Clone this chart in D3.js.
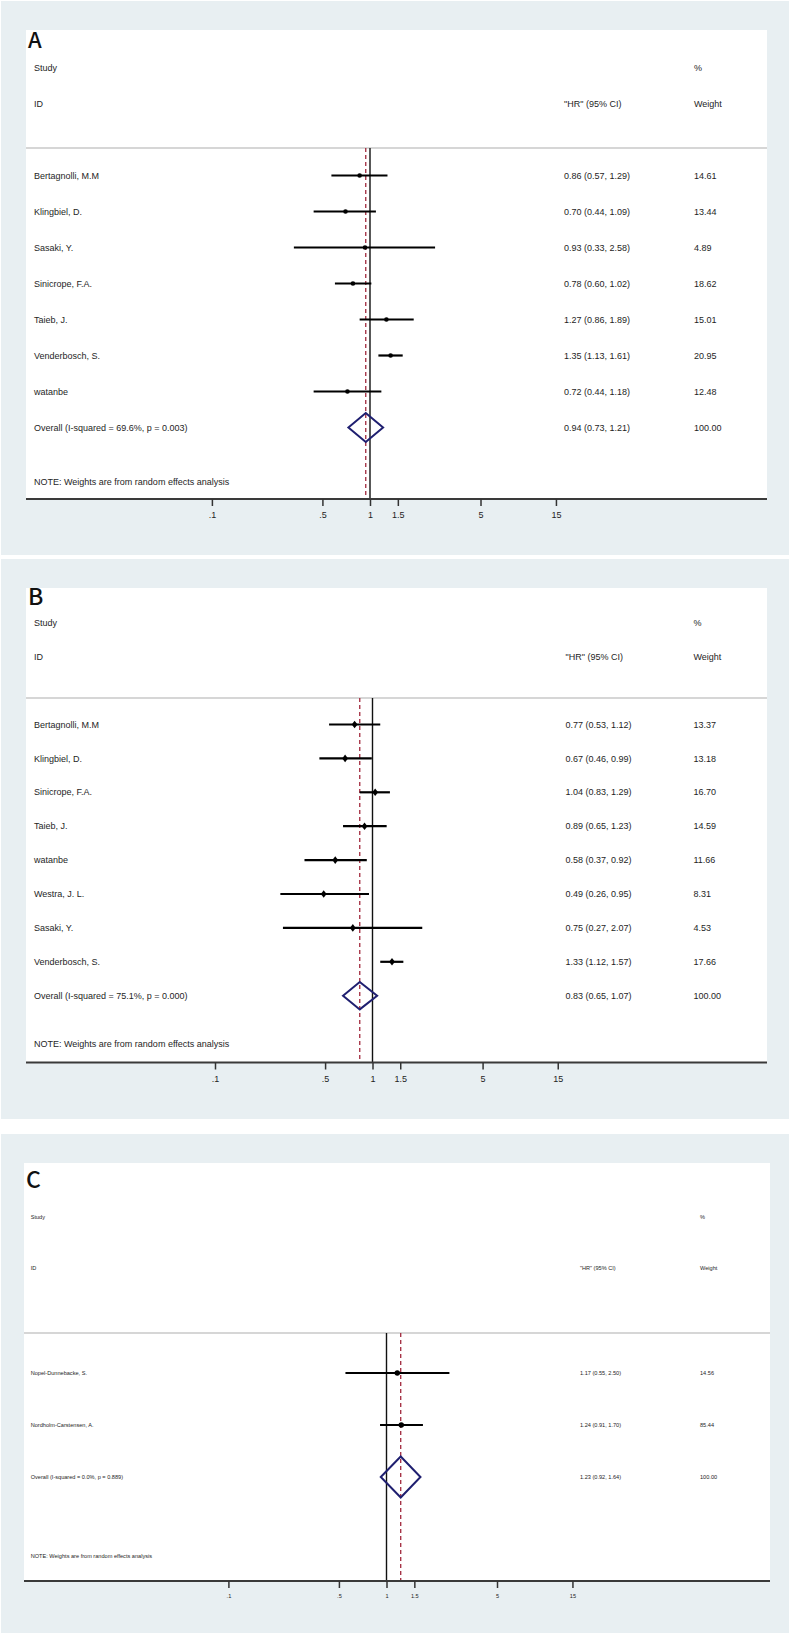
<!DOCTYPE html>
<html><head><meta charset="utf-8">
<script src="https://cdn.jsdelivr.net/npm/d3@7"></script>
<style>body{margin:0;background:#fff}svg{display:block}</style>
</head><body><svg id="c" width="789" height="1633"></svg>
<script>
// ---------- shared axis ticks ----------
const tickValues = [0.1, 0.5, 1, 1.5, 5, 15];
const tickLabels = [".1", ".5", "1", "1.5", "5", "15"];

// ---------- Panel A ----------
const studiesA = ["Bertagnolli, M.M", "Klingbiel, D.", "Sasaki, Y.", "Sinicrope, F.A.", "Taieb, J.", "Venderbosch, S.", "watanbe"];
const hrA = [0.86, 0.70, 0.93, 0.78, 1.27, 1.35, 0.72];
const loA = [0.57, 0.44, 0.33, 0.60, 0.86, 1.13, 0.44];
const hiA = [1.29, 1.09, 2.58, 1.02, 1.89, 1.61, 1.18];
const weightsA = ["14.61", "13.44", "4.89", "18.62", "15.01", "20.95", "12.48"];
const overallA = [0.94, 0.73, 1.21];
const overallLabelA = "Overall  (I-squared = 69.6%, p = 0.003)";

// ---------- Panel B ----------
const studiesB = ["Bertagnolli, M.M", "Klingbiel, D.", "Sinicrope, F.A.", "Taieb, J.", "watanbe", "Westra, J. L.", "Sasaki, Y.", "Venderbosch, S."];
const hrB = [0.77, 0.67, 1.04, 0.89, 0.58, 0.49, 0.75, 1.33];
const loB = [0.53, 0.46, 0.83, 0.65, 0.37, 0.26, 0.27, 1.12];
const hiB = [1.12, 0.99, 1.29, 1.23, 0.92, 0.95, 2.07, 1.57];
const weightsB = ["13.37", "13.18", "16.70", "14.59", "11.66", "8.31", "4.53", "17.66"];
const overallB = [0.83, 0.65, 1.07];
const overallLabelB = "Overall  (I-squared = 75.1%, p = 0.000)";

// ---------- Panel C ----------
const studiesC = ["Nopel-Dunnebacke, S.", "Nordholm-Carstensen, A."];
const hrC = [1.17, 1.24];
const loC = [0.55, 0.91];
const hiC = [2.50, 1.70];
const weightsC = ["14.56", "85.44"];
const overallC = [1.23, 0.92, 1.64];
const overallLabelC = "Overall  (I-squared = 0.0%, p = 0.889)";

const noteText = "NOTE: Weights are from random effects analysis";
const f2 = d3.format(".2f");

const svg = d3.select("#c");
const BG = "#e8eff2";
const FONT = "'Liberation Sans', Arial, sans-serif";

function drawPanel(L, D) {
  const g = svg.append("g");
  g.append("rect").attr("x", 1).attr("y", L.bgTop).attr("width", 788).attr("height", L.bgBottom - L.bgTop).attr("fill", BG);
  g.append("rect").attr("x", L.left).attr("y", L.top).attr("width", L.right - L.left).attr("height", L.axisY - L.top).attr("fill", "#fff");

  const t0 = tickValues[0], t1 = tickValues[tickValues.length - 1];
  const x = d3.scaleLog().domain([t0, t1])
    .range([L.x1 + L.perDec * Math.log10(t0), L.x1 + L.perDec * Math.log10(t1)]);

  // panel letter
  g.append("text").attr("x", L.left + 2).attr("y", L.labelY).text(D.letter)
    .attr("font-family", "'Noto Sans CJK SC', 'Noto Sans', sans-serif").attr("font-weight", 500)
    .attr("font-size", L.letterSize).attr("fill", "#111");

  const txt = (xx, yy, s, size) => g.append("text").attr("x", xx).attr("y", yy).attr("dy", "0.35em")
    .attr("font-family", FONT).attr("font-size", size).attr("fill", "#1e1e1e").text(s);

  txt(L.textX, L.studyY, "Study", L.font);
  txt(L.textX, L.idY, "ID", L.font);
  txt(L.wX, L.studyY, "%", L.font);
  txt(L.hrX, L.idY, "\"HR\" (95% CI)", L.font);
  txt(L.wX, L.idY, "Weight", L.font);

  // separator
  g.append("line").attr("x1", L.left).attr("x2", L.right).attr("y1", L.sepY).attr("y2", L.sepY)
    .attr("stroke", "#c9c9c9").attr("stroke-width", 1.5);

  // null line and overall dashed line
  g.append("line").attr("x1", x(1)).attr("x2", x(1)).attr("y1", L.sepY).attr("y2", L.axisY)
    .attr("stroke", "#111").attr("stroke-width", 1.4);
  g.append("line").attr("x1", x(D.overall[0])).attr("x2", x(D.overall[0])).attr("y1", L.sepY).attr("y2", L.axisY)
    .attr("stroke", "#a1283c").attr("stroke-width", 1.3).attr("stroke-dasharray", "4,3");

  const y = i => L.row0 + i * L.step;
  const rows = D.studies.map((s, i) => ({ s, hr: D.hr[i], lo: D.lo[i], hi: D.hi[i], w: D.weights[i], i }));

  const rg = g.selectAll("g.row").data(rows).join("g").attr("class", "row");
  rg.append("line").attr("x1", d => x(d.lo)).attr("x2", d => x(d.hi)).attr("y1", d => y(d.i)).attr("y2", d => y(d.i))
    .attr("stroke", "#000").attr("stroke-width", L.ciW);
  if (D.marker === "diamond") {
    rg.append("path")
      .attr("d", d => { const cx = x(d.hr), cy = y(d.i); return `M${cx - L.mW},${cy}L${cx},${cy - L.mH}L${cx + L.mW},${cy}L${cx},${cy + L.mH}Z`; })
      .attr("fill", "#000");
  } else {
    rg.append("circle").attr("cx", d => x(d.hr)).attr("cy", d => y(d.i)).attr("r", L.mR).attr("fill", "#000");
  }
  rows.forEach(d => {
    txt(L.textX, y(d.i), d.s, L.font);
    txt(L.hrX, y(d.i), `${f2(d.hr)} (${f2(d.lo)}, ${f2(d.hi)})`, L.font);
    txt(L.wX, y(d.i), d.w, L.font);
  });

  // overall
  const oi = rows.length;
  const [ohr, olo, ohi] = D.overall;
  const oy = y(oi);
  g.append("path").attr("d", `M${x(olo)},${oy}L${x(ohr)},${oy - L.dH}L${x(ohi)},${oy}L${x(ohr)},${oy + L.dH}Z`)
    .attr("fill", "none").attr("stroke", "#1f1f70").attr("stroke-width", 2);
  txt(L.textX, oy, D.overallLabel, L.font);
  txt(L.hrX, oy, `${f2(ohr)} (${f2(olo)}, ${f2(ohi)})`, L.font);
  txt(L.wX, oy, "100.00", L.font);

  txt(L.textX, L.noteY, noteText, L.font);

  // axis
  g.append("line").attr("x1", L.left).attr("x2", L.right).attr("y1", L.axisY).attr("y2", L.axisY)
    .attr("stroke", "#3a3a3a").attr("stroke-width", 1.8);
  const ax = d3.axisBottom(x).tickValues(tickValues).tickFormat((d, i) => tickLabels[i]).tickSize(L.tickLen).tickPadding(L.tickPad);
  const ag = g.append("g").attr("transform", `translate(0,${L.axisY})`).call(ax);
  ag.select(".domain").remove();
  ag.selectAll(".tick line").attr("stroke", "#333").attr("stroke-width", 1.5);
  ag.selectAll(".tick text").attr("font-family", FONT).attr("font-size", L.font).attr("fill", "#1e1e1e");
}

drawPanel(
  { bgTop: 1, bgBottom: 555, left: 26, right: 767, top: 30, axisY: 499, labelY: 48, letterSize: 22,
    studyY: 68, idY: 104, sepY: 148, row0: 175.5, step: 36, noteY: 482,
    x1: 370, perDec: 158.1, textX: 34, hrX: 564, wX: 694, font: 9, dH: 14.5,
    ciW: 2.2, mR: 2.3, tickLen: 7, tickPad: 6 },
  { letter: "A", studies: studiesA, hr: hrA, lo: loA, hi: hiA, weights: weightsA,
    overall: overallA, overallLabel: overallLabelA, marker: "circle" });

drawPanel(
  { bgTop: 559, bgBottom: 1119, left: 26, right: 767, top: 588, axisY: 1062.5, labelY: 605, letterSize: 23,
    studyY: 623, idY: 657, sepY: 698, row0: 724.5, step: 33.9, noteY: 1044,
    x1: 372.5, perDec: 157.5, textX: 34, hrX: 565.5, wX: 693.5, font: 9, dH: 13.7,
    ciW: 2.2, mW: 2.9, mH: 3.8, tickLen: 7, tickPad: 6 },
  { letter: "B", studies: studiesB, hr: hrB, lo: loB, hi: hiB, weights: weightsB,
    overall: overallB, overallLabel: overallLabelB, marker: "diamond" });

drawPanel(
  { bgTop: 1134, bgBottom: 1633, left: 24, right: 770, top: 1163, axisY: 1581, labelY: 1188, letterSize: 23,
    studyY: 1217, idY: 1268, sepY: 1333, row0: 1373, step: 52, noteY: 1556,
    x1: 386.5, perDec: 158.1, textX: 30.7, hrX: 580, wX: 700, font: 5.6, dH: 20.5,
    ciW: 2, mR: 2.7, tickLen: 7, tickPad: 6 },
  { letter: "C", studies: studiesC, hr: hrC, lo: loC, hi: hiC, weights: weightsC,
    overall: overallC, overallLabel: overallLabelC, marker: "circle" });
</script>
</body></html>
